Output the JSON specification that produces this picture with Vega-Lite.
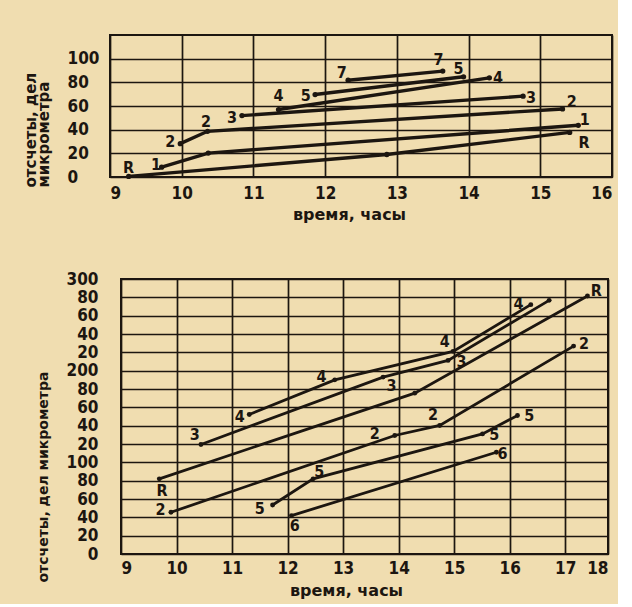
{
  "$schema": "https://vega.github.io/schema/vega-lite/v6.json",
  "background": "#f0ddb0",
  "padding": {"left": 0, "top": 34, "right": 5, "bottom": 5},
  "spacing": 46,
  "config": {
    "font": "DejaVu Sans",
    "view": {"stroke": "#1c1610", "strokeWidth": 2},
    "axis": {
      "domain": false, "ticks": false, "labelOverlap": false, "labelBound": false, "tickCount": 40,
      "grid": true, "gridColor": "#1c1610", "gridWidth": 1.7, "gridOpacity": 1,
      "labelFont": "'Liberation Sans Narrow', 'DejaVu Sans Condensed', 'DejaVu Sans'", "labelFontWeight": "bold", "labelFontSize": 17, "labelColor": "#1c1610",
      "titleFont": "DejaVu Sans", "titleFontWeight": "bold", "titleFontSize": 15, "titleColor": "#1c1610"
    }
  },
  "datasets": {
    "top": [
      {"s": "R", "o": 1, "t": 9.26, "v": 0.5},
      {"s": "R", "o": 2, "t": 12.86, "v": 19},
      {"s": "R", "o": 3, "t": 15.41, "v": 37.7},
      {"s": "1", "o": 1, "t": 9.72, "v": 8.3},
      {"s": "1", "o": 2, "t": 10.37, "v": 20.2},
      {"s": "1", "o": 3, "t": 15.53, "v": 43.7},
      {"s": "2", "o": 1, "t": 9.98, "v": 28.2},
      {"s": "2", "o": 2, "t": 10.36, "v": 38.6},
      {"s": "2", "o": 3, "t": 15.31, "v": 57.5},
      {"s": "3", "o": 1, "t": 10.84, "v": 51.9},
      {"s": "3", "o": 2, "t": 14.76, "v": 68.3},
      {"s": "4", "o": 1, "t": 11.35, "v": 57},
      {"s": "4", "o": 2, "t": 14.29, "v": 83.8},
      {"s": "5", "o": 1, "t": 11.86, "v": 69.7},
      {"s": "5", "o": 2, "t": 13.93, "v": 84.7},
      {"s": "7", "o": 1, "t": 12.32, "v": 81.8},
      {"s": "7", "o": 2, "t": 13.64, "v": 89.5}
    ],
    "topLabels": [
      {"txt": "R", "t": 9.26, "v": 7.5},
      {"txt": "1", "t": 9.64, "v": 10.3},
      {"txt": "2", "t": 9.84, "v": 29.5},
      {"txt": "2", "t": 10.34, "v": 46.5},
      {"txt": "3", "t": 10.7, "v": 49.9},
      {"txt": "4", "t": 11.35, "v": 68.3},
      {"txt": "5", "t": 11.73, "v": 68.3},
      {"txt": "7", "t": 12.23, "v": 88},
      {"txt": "7", "t": 13.58, "v": 98.8},
      {"txt": "5", "t": 13.86, "v": 91.4},
      {"txt": "4", "t": 14.41, "v": 83.8},
      {"txt": "3", "t": 14.87, "v": 66.8},
      {"txt": "2", "t": 15.44, "v": 63.2},
      {"txt": "1", "t": 15.62, "v": 48.5},
      {"txt": "R", "t": 15.61, "v": 28.7}
    ],
    "bottom": [
      {"s": "R", "o": 1, "t": 9.69, "v": 82},
      {"s": "R", "o": 2, "t": 14.29, "v": 175.5},
      {"s": "R", "o": 3, "t": 17.4, "v": 281.4},
      {"s": "2", "o": 1, "t": 9.9, "v": 45.5},
      {"s": "2", "o": 2, "t": 13.93, "v": 129.3},
      {"s": "2", "o": 3, "t": 14.74, "v": 140.2},
      {"s": "2", "o": 4, "t": 17.15, "v": 226.8},
      {"s": "3", "o": 1, "t": 10.44, "v": 119.5},
      {"s": "3", "o": 2, "t": 13.72, "v": 193},
      {"s": "3", "o": 3, "t": 14.89, "v": 211.2},
      {"s": "3", "o": 4, "t": 16.71, "v": 276.7},
      {"s": "4", "o": 1, "t": 11.31, "v": 152.2},
      {"s": "4", "o": 2, "t": 12.85, "v": 190},
      {"s": "4", "o": 3, "t": 14.98, "v": 221},
      {"s": "4", "o": 4, "t": 16.38, "v": 272},
      {"s": "5", "o": 1, "t": 11.73, "v": 53.5},
      {"s": "5", "o": 2, "t": 12.46, "v": 82},
      {"s": "5", "o": 3, "t": 15.51, "v": 131},
      {"s": "5", "o": 4, "t": 16.14, "v": 151.1},
      {"s": "6", "o": 1, "t": 12.07, "v": 41.9},
      {"s": "6", "o": 2, "t": 15.76, "v": 111}
    ],
    "bottomLabels": [
      {"txt": "4", "t": 11.14, "v": 149.3},
      {"txt": "4", "t": 12.61, "v": 193},
      {"txt": "4", "t": 14.83, "v": 231.2},
      {"txt": "4", "t": 16.16, "v": 273},
      {"txt": "3", "t": 10.33, "v": 130},
      {"txt": "3", "t": 13.87, "v": 183.1},
      {"txt": "3", "t": 15.13, "v": 209.3},
      {"txt": "R", "t": 9.74, "v": 69.2},
      {"txt": "R", "t": 17.56, "v": 286.6},
      {"txt": "2", "t": 9.71, "v": 48.5},
      {"txt": "2", "t": 13.57, "v": 131},
      {"txt": "2", "t": 14.62, "v": 151.1},
      {"txt": "2", "t": 17.34, "v": 229.3},
      {"txt": "5", "t": 11.5, "v": 49.1},
      {"txt": "5", "t": 12.57, "v": 89.2},
      {"txt": "5", "t": 15.72, "v": 129.3},
      {"txt": "5", "t": 16.35, "v": 150.4},
      {"txt": "6", "t": 12.13, "v": 31},
      {"txt": "6", "t": 15.87, "v": 109.2}
    ],
    "none": []
  },
  "vconcat": [
    {
      "spacing": 0,
      "hconcat": [
        {
          "width": 22, "height": 1,
          "view": {"stroke": null},
          "data": {"name": "none"},
          "mark": {"type": "point", "opacity": 0},
          "encoding": {}
        },
        {
          "width": 502,
          "height": 142,
          "layer": [
            {
              "data": {"name": "top"},
              "mark": {"type": "line", "color": "#1c1610", "strokeWidth": 3.4, "strokeCap": "round"},
              "encoding": {
                "x": {"field": "t", "type": "quantitative", "scale": {"domain": [9, 16], "nice": false, "zero": false},
                      "axis": {"values": [9, 10, 11, 12, 13, 14, 15, 16], "format": "d", "title": "время, часы", "titleFontSize": 16, "labelPadding": 8, "titlePadding": 5, "titleX": 239}},
                "y": {"field": "v", "type": "quantitative", "scale": {"domain": [0, 120], "nice": false},
                      "axis": {"values": [0, 20, 40, 60, 80, 100], "format": "d", "labelAlign": "left", "labelPadding": 43,
                               "title": ["отсчеты, дел", "микрометра"], "titleAlign": "left", "titlePadding": 16, "titleY": 152, "titleLineHeight": 12.5}},
                "detail": {"field": "s"},
                "order": {"field": "o"}
              }
            },
            {
              "data": {"name": "top"},
              "mark": {"type": "point", "filled": true, "color": "#1c1610", "opacity": 1, "size": 28},
              "encoding": {
                "x": {"field": "t", "type": "quantitative"},
                "y": {"field": "v", "type": "quantitative"}
              }
            },
            {
              "data": {"name": "topLabels"},
              "mark": {"type": "text", "color": "#1c1610", "fontWeight": "bold", "fontSize": 16, "font": "'Liberation Sans Narrow', 'DejaVu Sans Condensed', 'DejaVu Sans'"},
              "encoding": {
                "x": {"field": "t", "type": "quantitative"},
                "y": {"field": "v", "type": "quantitative"},
                "text": {"field": "txt"}
              }
            }
          ]
        }
      ]
    },
    {
      "spacing": 0,
      "hconcat": [
        {
          "width": 35, "height": 1,
          "view": {"stroke": null},
          "data": {"name": "none"},
          "mark": {"type": "point", "opacity": 0},
          "encoding": {}
        },
        {
          "width": 487,
          "height": 275,
          "layer": [
            {
              "data": {"name": "bottom"},
              "mark": {"type": "line", "color": "#1c1610", "strokeWidth": 2.8, "strokeCap": "round"},
              "encoding": {
                "x": {"field": "t", "type": "quantitative", "scale": {"domain": [9, 17.77], "nice": false, "zero": false},
                      "axis": {"values": [9, 10, 11, 12, 13, 14, 15, 16, 17, 17.77], "labelExpr": "datum.value > 17.5 ? '18' : format(datum.value, 'd')",
                               "title": "время, часы", "titleFontSize": 16, "labelPadding": 6, "titlePadding": 6, "titleX": 225}},
                "y": {"field": "v", "type": "quantitative", "scale": {"domain": [0, 300], "nice": false},
                      "axis": {"values": [0, 20, 40, 60, 80, 100, 120, 140, 160, 180, 200, 220, 240, 260, 280, 300],
                               "labelExpr": "datum.value % 100 == 0 ? format(datum.value, 'd') : format(datum.value % 100, 'd')",
                               "labelPadding": 23,
                               "title": "отсчеты, дел микрометра", "titleFontSize": 14, "titleAlign": "left", "titlePadding": 16, "titleY": 303}},
                "detail": {"field": "s"},
                "order": {"field": "o"}
              }
            },
            {
              "data": {"name": "bottom"},
              "mark": {"type": "point", "filled": true, "color": "#1c1610", "opacity": 1, "size": 24},
              "encoding": {
                "x": {"field": "t", "type": "quantitative"},
                "y": {"field": "v", "type": "quantitative"}
              }
            },
            {
              "data": {"name": "bottomLabels"},
              "mark": {"type": "text", "color": "#1c1610", "fontWeight": "bold", "fontSize": 16, "font": "'Liberation Sans Narrow', 'DejaVu Sans Condensed', 'DejaVu Sans'"},
              "encoding": {
                "x": {"field": "t", "type": "quantitative"},
                "y": {"field": "v", "type": "quantitative"},
                "text": {"field": "txt"}
              }
            }
          ]
        }
      ]
    }
  ]
}
